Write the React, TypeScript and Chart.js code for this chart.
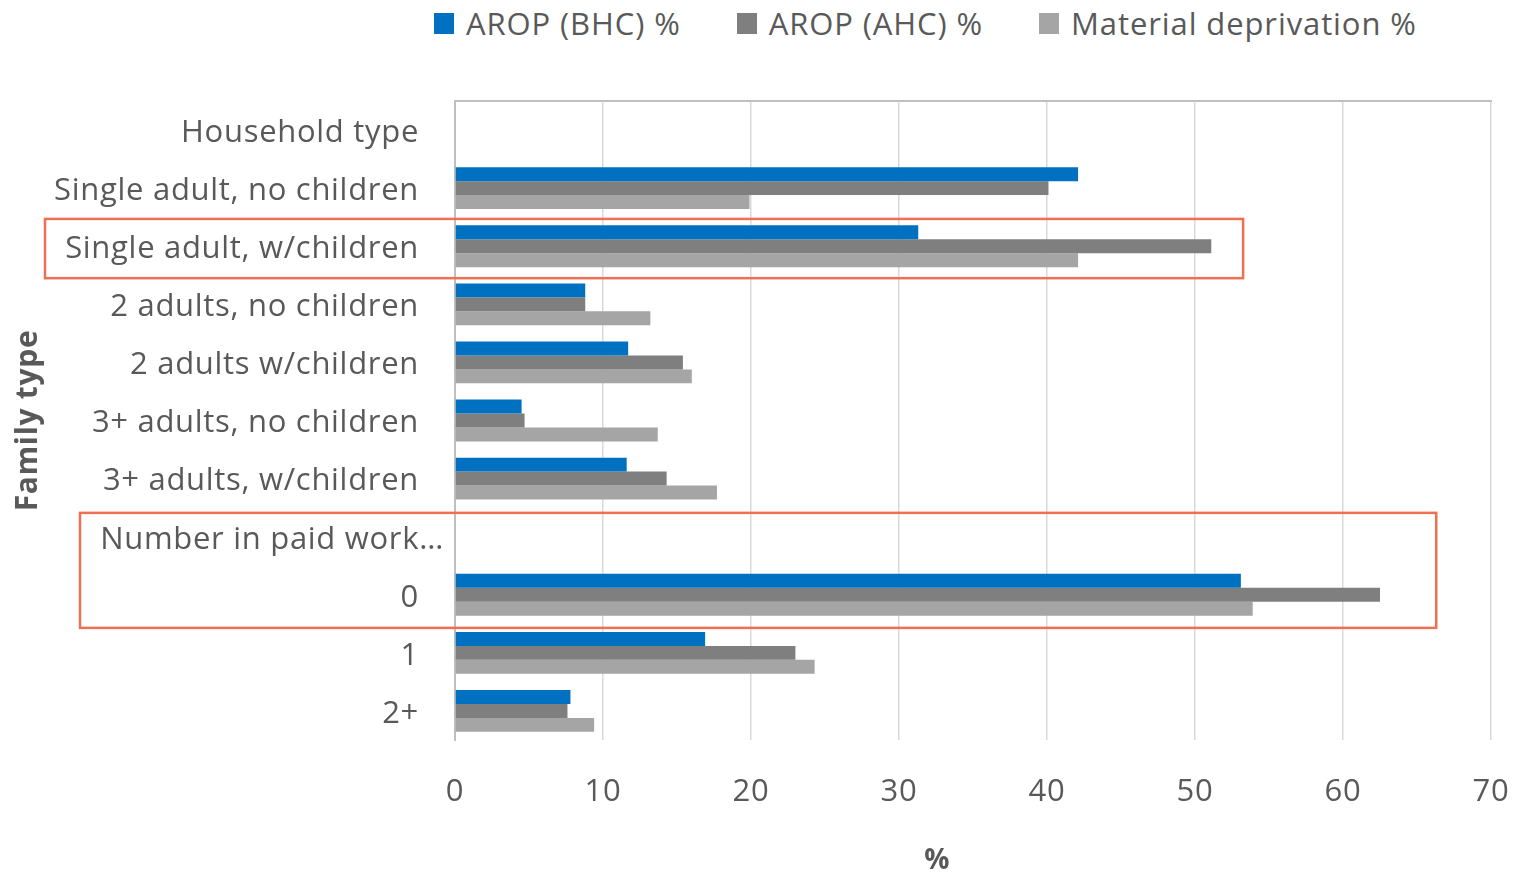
import React, { useEffect, useRef } from 'react';
import { Chart, registerables } from 'chart.js';

Chart.register(...registerables);

const categories = [
  'Household type',
  'Single adult, no children',
  'Single adult, w/children',
  '2 adults, no children',
  '2 adults w/children',
  '3+ adults, no children',
  '3+ adults, w/children',
  'Number in paid work…',
  '0',
  '1',
  '2+',
];
const aropBHC = [null, 42.1, 31.3, 8.8, 11.7, 4.5, 11.6, null, 53.1, 16.9, 7.8];
const aropAHC = [null, 40.1, 51.1, 8.8, 15.4, 4.7, 14.3, null, 62.5, 23.0, 7.6];
const materialDeprivation = [null, 19.9, 42.1, 13.2, 16.0, 13.7, 17.7, null, 53.9, 24.3, 9.4];
const seriesNames = ['AROP (BHC) %', 'AROP (AHC) %', 'Material deprivation %'];
const seriesColors = ['#0070C0', '#7F7F7F', '#A5A5A5'];
const xMin = 0;
const xMax = 70;
const xStep = 10;
const xTitle = '%';
const yTitle = 'Family type';

// highlight boxes: category index range and right edge in value units
const highlightBoxes = [
  { from: 2, to: 2, rightValue: 53.25, leftPx: 45, topFrac: 0.47, bottomFrac: 0.55 },
  { from: 7, to: 8, rightValue: 66.3, leftPx: 80, topFrac: 0.41, bottomFrac: 0.57 },
];
// truncated label overflows toward the axis (as in the original)
const overflowLabelShift = 25;

const FONT = '"Open Sans", "Noto Sans", sans-serif';
const TEXT = '#595959';
const FS = 31;

const spacingPlugin = {
  id: 'letterSpacing',
  beforeDraw(chart: any) {
    chart.ctx.letterSpacing = '0.7px';
    const y = chart.scales.y;
    const items = y.getLabelItems(chart.chartArea);
    items.forEach((it: any) => {
      const lbl = Array.isArray(it.label) ? it.label.join('') : String(it.label);
      if (lbl.endsWith('…') && !it._shifted) {
        it.options.translation[0] += overflowLabelShift;
        it._shifted = true;
      }
    });
  },
};

const boxPlugin = {
  id: 'highlightBoxes',
  afterDatasetsDraw(chart: any) {
    const { ctx } = chart;
    const y = chart.scales.y;
    const x = chart.scales.x;
    const step = y.getPixelForValue(1) - y.getPixelForValue(0);
    ctx.save();
    ctx.strokeStyle = '#EF6F52';
    ctx.lineWidth = 2.5;
    highlightBoxes.forEach((b) => {
      const top = y.getPixelForValue(b.from) - step * b.topFrac;
      const bottom = y.getPixelForValue(b.to) + step * b.bottomFrac;
      const right = x.getPixelForValue(b.rightValue);
      ctx.strokeRect(b.leftPx, top, right - b.leftPx, bottom - top);
    });
    ctx.restore();
  },
};

const fixHPad = (scale: any) => {
  scale.paddingLeft = 0;
  scale.paddingRight = 33;
};

export default function App() {
  const ref = useRef<HTMLCanvasElement | null>(null);
  useEffect(() => {
    if (!ref.current) return;
    const chart = new Chart(ref.current, {
      type: 'bar',
      data: {
        labels: categories,
        datasets: [
          { label: seriesNames[0], data: aropBHC, backgroundColor: seriesColors[0] },
          { label: seriesNames[1], data: aropAHC, backgroundColor: seriesColors[1] },
          { label: seriesNames[2], data: materialDeprivation, backgroundColor: seriesColors[2] },
        ],
      },
      options: {
        indexAxis: 'y',
        responsive: true,
        maintainAspectRatio: false,
        animation: false,
        layout: { padding: { top: 101, left: 0, right: 0, bottom: 0 } },
        datasets: { bar: { categoryPercentage: 0.72, barPercentage: 1.0 } },
        plugins: { legend: { display: false }, tooltip: { enabled: false } },
        scales: {
          x: {
            min: xMin,
            max: xMax,
            position: 'bottom',
            ticks: { stepSize: xStep, color: TEXT, font: { family: FONT, size: FS }, padding: 34 },
            grid: { color: '#D9D9D9', lineWidth: 1.5, drawTicks: false },
            border: { display: false },
            title: {
              display: true,
              text: xTitle + '         ',
              color: TEXT,
              font: { family: FONT, size: 28, weight: 'bold', lineHeight: 0.86 },
              padding: { top: 0, bottom: 0 },
            },
            afterFit(scale: any) {
              scale.height = 133;
              fixHPad(scale);
            },
          },
          x2: {
            min: xMin,
            max: xMax,
            position: 'top',
            ticks: { display: false },
            grid: { display: false, drawTicks: false },
            border: { display: true, color: '#BFBFBF', width: 2 },
            afterFit(scale: any) {
              scale.height = 0;
              fixHPad(scale);
            },
          },
          y: {
            ticks: { color: TEXT, font: { family: FONT, size: FS }, padding: 36, autoSkip: false, labelOffset: 3 },
            grid: { display: false, drawTicks: false },
            border: { display: true, color: '#BFBFBF', width: 2 },
            title: {
              display: true,
              text: yTitle,
              color: TEXT,
              font: { family: FONT, size: 30, weight: 'bold', lineHeight: 1.2 },
              padding: { top: 10, bottom: 0 },
            },
            afterFit(scale: any) {
              scale.width = 455;
            },
          },
        },
      },
      plugins: [spacingPlugin, boxPlugin],
    } as any);
    return () => chart.destroy();
  }, []);

  return (
    <div style={{ position: 'fixed', left: 0, top: 0, width: 1524, height: 873, background: '#fff', fontFamily: FONT }}>
      <div
        style={{
          position: 'absolute',
          left: 434,
          top: 3,
          display: 'flex',
          alignItems: 'center',
          height: 40,
          color: TEXT,
          fontSize: FS,
          letterSpacing: 0.9,
          whiteSpace: 'nowrap',
        }}
      >
        {seriesNames.map((n, i) => (
          <div key={n} style={{ display: 'flex', alignItems: 'center', marginRight: i < 2 ? 56 : 0 }}>
            <span style={{ display: 'inline-block', width: 20, height: 21, background: seriesColors[i], marginRight: 12 }} />
            <span>{n}</span>
          </div>
        ))}
      </div>
      <div style={{ position: 'absolute', left: 0, top: 0, width: 1524, height: 873 }}>
        <canvas ref={ref} />
      </div>
    </div>
  );
}
